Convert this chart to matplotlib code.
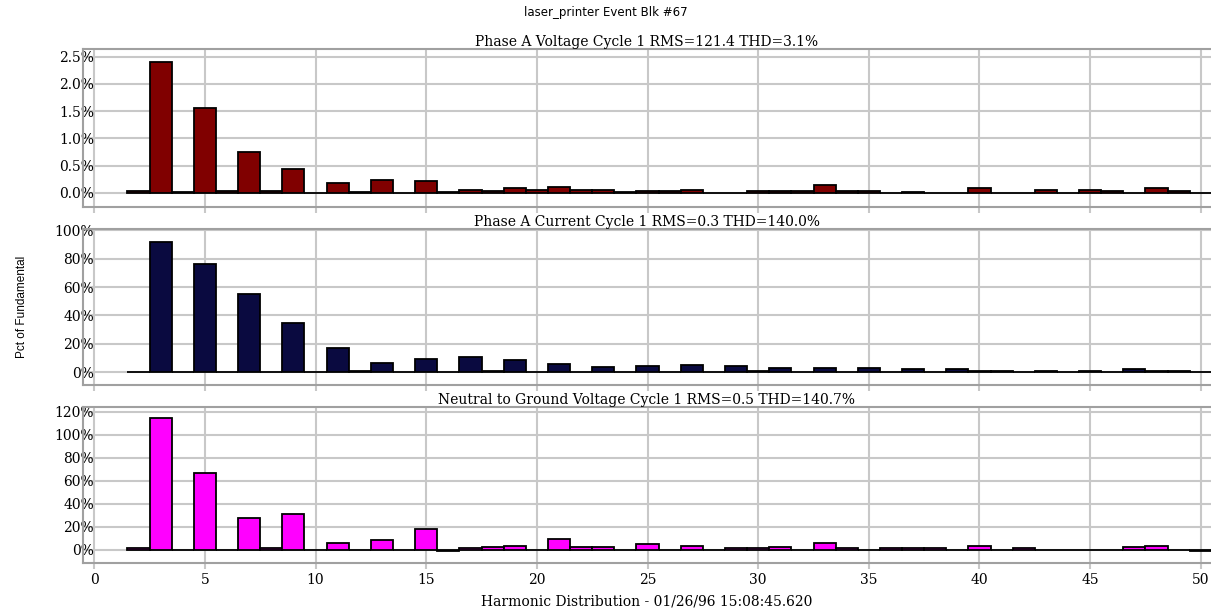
# python3

import matplotlib
matplotlib.use('Agg')
import matplotlib.pyplot as plt
from matplotlib.ticker import FuncFormatter, MultipleLocator

harmonics = list(range(2, 51))

# percent of fundamental, harmonics 2..50
voltage_a = [0.03, 2.41, 0.02, 1.56, 0.03, 0.75, 0.03, 0.43, 0.0, 0.18,
             0.02, 0.24, 0.0, 0.22, 0.02, 0.06, 0.04, 0.08, 0.06, 0.10,
             0.06, 0.06, 0.01, 0.03, 0.03, 0.05, 0.0, 0.0, 0.03, 0.03,
             0.03, 0.14, 0.03, 0.03, 0.0, 0.02, 0.0, 0.0, 0.08, 0.0,
             0.0, 0.05, 0.0, 0.05, 0.03, 0.0, 0.09, 0.03, 0.0]

current_a = [0, 92, 0, 76.6, 0, 55, 0, 34.8, 0, 17.3,
             1.0, 6.5, 0, 9.3, 0, 10.3, 1.0, 8.4, 0, 5.8,
             0, 3.3, 0, 4, 0, 4.9, 0, 4, 1, 3,
             0, 3, 0, 3, 0, 2, 0, 2, 1, 1,
             0, 1, 0, 1, 0, 2, 1, 1, 0]

neutral_gnd = [1.4, 114.5, 0, 67.2, 0, 28.1, 1.4, 31.3, 0, 6,
               0, 8.4, 0, 18, -0.5, 1.4, 2.6, 3.8, 0, 9.6,
               2.6, 2.6, 0, 5, 0, 3.5, 0, 1.4, 1.4, 2.5,
               0, 6, 1.4, 0, 1.4, 1.4, 1.4, 0, 3.5, 0,
               1.4, 0, 0, 0, 0, 2.5, 3.5, 0, -0.5]

panel_titles = ['Phase A Voltage Cycle 1 RMS=121.4 THD=3.1%',
                'Phase A Current Cycle 1 RMS=0.3 THD=140.0%',
                'Neutral to Ground Voltage Cycle 1 RMS=0.5 THD=140.7%']

serif = 'DejaVu Serif'
grid_c = '#c8c8c8'
frame_c = '#a0a0a0'

fig = plt.figure(figsize=(12.11, 6.13), dpi=100)

panels = [
    (voltage_a, '#800000', [0.0683, 0.6623, 0.9317, 0.2577], (-0.26, 2.64), 0.5, '{:.1f}%'),
    (current_a, '#0a0a40', [0.0683, 0.3719, 0.9317, 0.2545], (-9.2, 101), 20, '{:.0f}%'),
    (neutral_gnd, '#ff00ff', [0.0683, 0.0816, 0.9317, 0.2550], (-11.3, 124.6), 20, '{:.0f}%'),
]

axes = []
for i, (vals, color, pos, ylim, step, fmt) in enumerate(panels):
    ax = fig.add_axes(pos)
    ax.bar(harmonics, vals, width=1.0, color=color, edgecolor='black',
           linewidth=1.3, zorder=3)
    ax.set_xlim(-0.52, 50.46)
    ax.set_ylim(*ylim)
    ax.xaxis.set_major_locator(MultipleLocator(5))
    ax.yaxis.set_major_locator(MultipleLocator(step))
    ax.yaxis.set_major_formatter(FuncFormatter(lambda v, p, f=fmt: f.format(v)))
    ax.grid(True, color=grid_c, linewidth=1.5, zorder=0)
    for s in ax.spines.values():
        s.set_color(frame_c)
        s.set_linewidth(1.5)
    ax.spines['right'].set_visible(False)
    ax.tick_params(axis='x', direction='out', length=4, width=1.5,
                   color=grid_c, labelsize=10)
    ax.tick_params(axis='y', length=0, pad=-8, labelsize=10)
    for lbl in ax.get_yticklabels() + ax.get_xticklabels():
        lbl.set_family(serif)
        lbl.set_zorder(5)
    if i < 2:
        ax.tick_params(axis='x', labelbottom=False)
    ax.set_title(panel_titles[i], fontsize=10, family=serif, pad=2)
    axes.append(ax)

axes[2].set_xlabel('Harmonic Distribution - 01/26/96 15:08:45.620',
                   fontsize=10, family=serif, labelpad=5)
fig.text(0.5, 0.98, 'laser_printer Event Blk #67', ha='center', va='center',
         fontsize=8.5, family='DejaVu Sans')
fig.text(0.018, 0.5, 'Pct of Fundamental', rotation=90, ha='center',
         va='center', fontsize=8.5, family='Liberation Sans')

fig.savefig('out.png', dpi=100)
